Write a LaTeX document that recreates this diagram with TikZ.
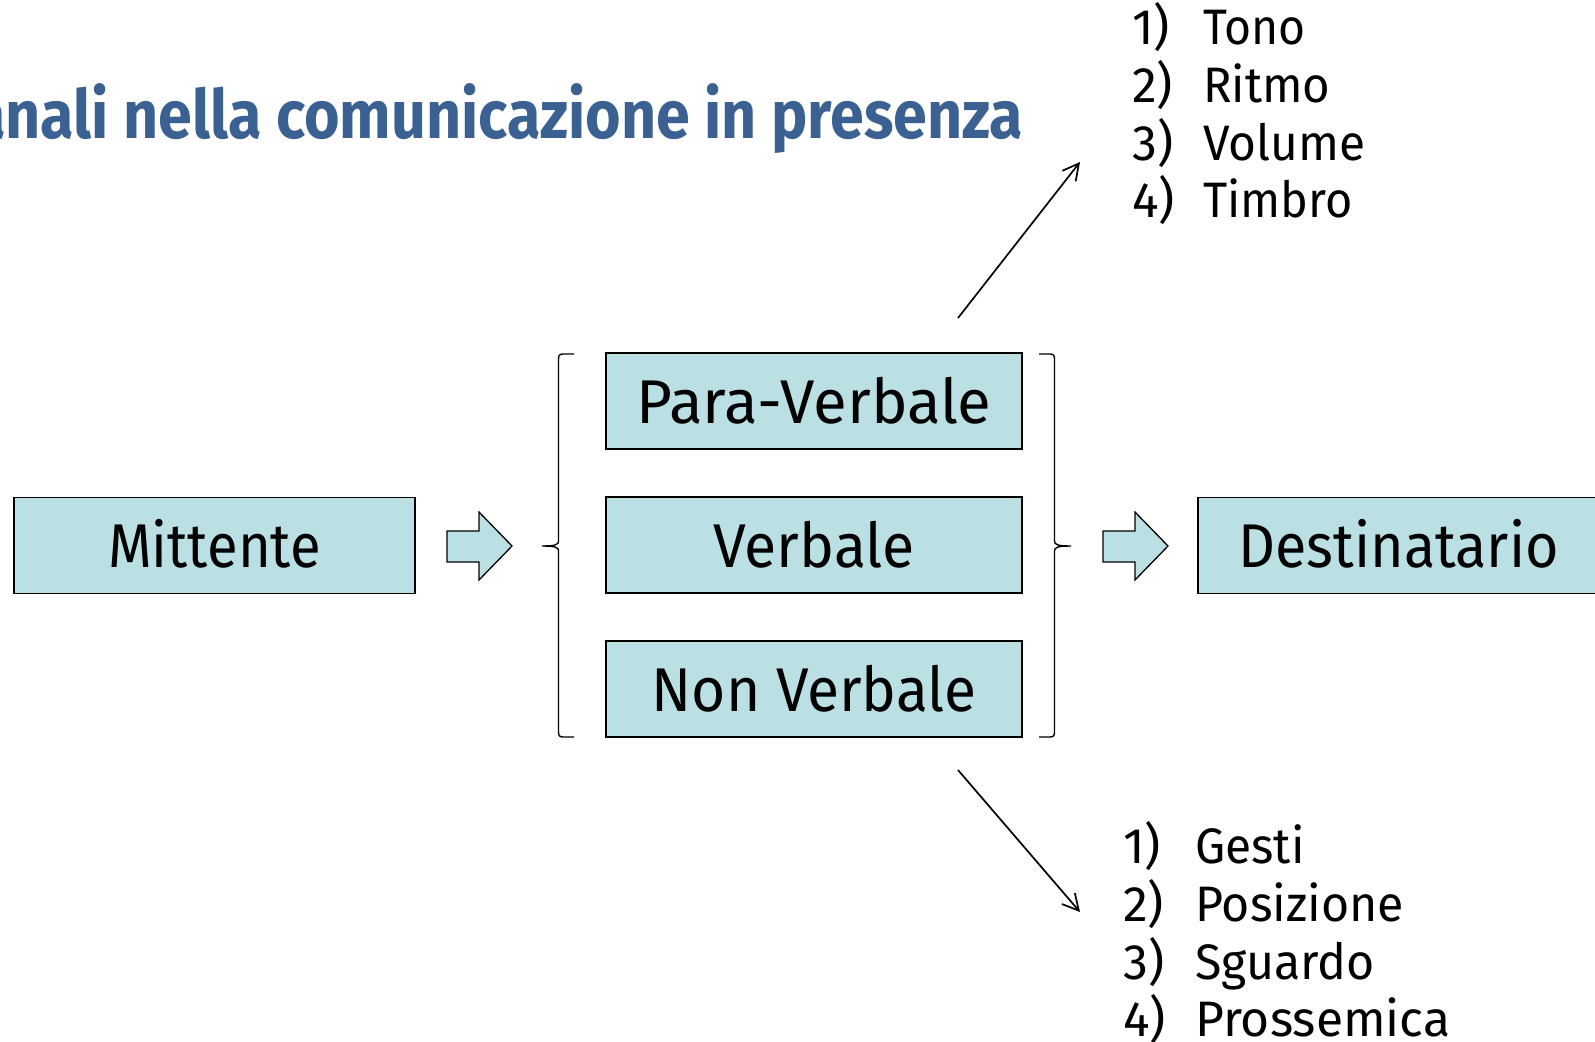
\documentclass[tikz,border=0pt]{standalone}
\usepackage{fontspec}
\setmainfont{Fira Sans}
\usetikzlibrary{arrows.meta}
\definecolor{boxfill}{RGB}{186,224,227}
\definecolor{titleblue}{RGB}{59,97,147}
\newcommand{\hsq}[2]{\scalebox{#1}[1]{#2}}
\begin{document}
\begin{tikzpicture}[x=1bp,y=-1bp,
  box/.style={draw=black,line width=1.5bp,fill=boxfill,inner sep=0pt,
    text height=44bp,text depth=0bp,font=\fontsize{62}{70}\selectfont},
  midbox/.style={box,minimum width=416bp,minimum height=96bp},
  endbox/.style={box,minimum width=401bp,minimum height=96bp},
  itemnum/.style={anchor=base west,inner sep=0pt,font=\fontsize{50}{58}\selectfont},
  itemtext/.style={anchor=base west,inner sep=0pt,font=\fontsize{50}{58}\selectfont},
  hollow/.style={draw=black,line width=1.3bp,fill=boxfill,line join=miter},
  brace/.style={draw=black,line width=1.4bp},
  link/.style={draw=black,line width=1.7bp,-{Straight Barb[length=16bp,width=17bp,line width=1.7bp]}}
]
\useasboundingbox (0,0) rectangle (1595,1041);
\fill[white] (0,0) rectangle (1595,1041);

% title (clipped by the page on the left, as in the reference)
\node[anchor=base east,inner sep=0pt,text=titleblue,font=\bfseries\fontsize{68}{76}\selectfont] (title) at (1023,138) {\hsq{0.90}{Canali nella comunicazione in presenza}};

% boxes
\node[endbox] (mitt) at (214.5,545.5) {\hsq{0.91}{Mittente}};
\node[midbox] (para) at (814,401) {Para-Verbale};
\node[midbox] (verb) at (814,545) {\hsq{0.955}{Verbale}};
\node[midbox] (nonv) at (814,689) {\hsq{0.95}{Non Verbale}};
\node[endbox] (dest) at (1398.5,545.5) {\hsq{0.93}{Destinatario}};

% hollow arrows
\draw[hollow] (447,531) -- (479,531) -- (479,512) -- (512,546) -- (479,580) -- (479,562) -- (447,562) -- cycle;
\draw[hollow] (1103,531) -- (1135,531) -- (1135,512) -- (1168,546) -- (1135,580) -- (1135,562) -- (1103,562) -- cycle;

% braces
\draw[brace] (574,354) -- (563,354) .. controls (559.5,354) and (558.5,355.5) .. (558.5,359)
  -- (558.5,541) .. controls (558.5,544.5) and (556,546) .. (542,546)
  .. controls (556,546) and (558.5,547.5) .. (558.5,551)
  -- (558.5,732) .. controls (558.5,735.5) and (559.5,737) .. (563,737) -- (574,737);
\draw[brace] (1039,354) -- (1050,354) .. controls (1053.5,354) and (1054.5,355.5) .. (1054.5,359)
  -- (1054.5,541) .. controls (1054.5,544.5) and (1057,546) .. (1071,546)
  .. controls (1057,546) and (1054.5,547.5) .. (1054.5,551)
  -- (1054.5,732) .. controls (1054.5,735.5) and (1053.5,737) .. (1050,737) -- (1039,737);

% diagonal arrows
\coordinate (upstart) at (958,318);
\coordinate (upend) at (1080,162);
\coordinate (dnstart) at (958,770);
\coordinate (dnend) at (1080,912);
\draw[link] (upstart) -- (upend);
\draw[link] (dnstart) -- (dnend);

% top list
\node[itemnum] (t1n) at (1132,44) {1)};
\node[itemtext] (t1) at (1203,44) {\hsq{0.93}{Tono}};
\node[itemnum] (t2n) at (1132,102) {2)};
\node[itemtext] (t2) at (1203,102) {\hsq{0.95}{Ritmo}};
\node[itemnum] (t3n) at (1132,160) {3)};
\node[itemtext] (t3) at (1203,160) {\hsq{0.96}{Volume}};
\node[itemnum] (t4n) at (1132,217) {4)};
\node[itemtext] (t4) at (1203,217) {\hsq{0.94}{Timbro}};

% bottom list
\node[itemnum] (b1n) at (1123,863) {1)};
\node[itemtext] (b1) at (1195,863) {\hsq{0.96}{Gesti}};
\node[itemnum] (b2n) at (1123,921) {2)};
\node[itemtext] (b2) at (1195,921) {\hsq{0.97}{Posizione}};
\node[itemnum] (b3n) at (1123,979) {3)};
\node[itemtext] (b3) at (1195,979) {\hsq{0.97}{Sguardo}};
\node[itemnum] (b4n) at (1123,1036) {4)};
\node[itemtext] (b4) at (1195,1036) {Prossemica};
\end{tikzpicture}
\end{document}
